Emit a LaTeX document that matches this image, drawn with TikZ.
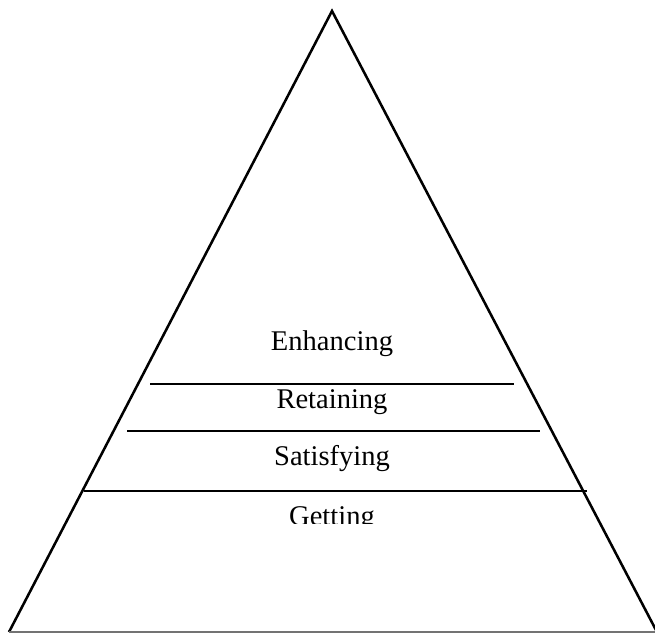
\documentclass[tikz,border=0pt]{standalone}
\usepackage{fontspec}
\setmainfont{Liberation Serif}
\begin{document}
\begin{tikzpicture}[x=0.75pt,y=-0.75pt,
  side/.style={line width=1.9pt,black},
  tier/.style={line width=1.4pt,black},
  label/.style={anchor=base,inner sep=0pt,font=\fontsize{21.4}{25}\selectfont}]
\useasboundingbox (0,0) rectangle (655,633);
\coordinate (apex) at (332,11);
\coordinate (bl) at (9,632);
\coordinate (br) at (657,632);
\draw[side,line join=miter] (bl) -- (apex) -- (br);
\draw[line width=1.1pt,black!55] (bl) -- (br);
% tier lines
\coordinate (l1a) at (150,384);
\coordinate (l1b) at (514,384);
\coordinate (l2a) at (127,431);
\coordinate (l2b) at (540,431);
\coordinate (l3a) at (84,491);
\coordinate (l3b) at (587,491);
\draw[tier] (l1a) -- (l1b);
\draw[tier] (l2a) -- (l2b);
\draw[tier] (l3a) -- (l3b);
\node[label] (enh) at (332,350) {Enhancing};
\node[label] (ret) at (332,408) {Retaining};
\node[label] (sat) at (332,465) {Satisfying};
\begin{scope}
\clip (200,495) rectangle (460,523);
\node[label] (get) at (332,525) {Getting};
\end{scope}
\end{tikzpicture}
\end{document}
